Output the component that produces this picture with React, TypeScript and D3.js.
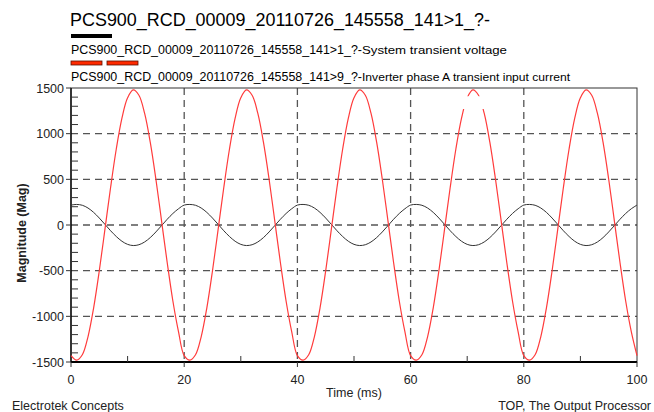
import React from 'react'
import * as d3 from 'd3'

// time axis in ms, one sample per ms
const timeMs = d3.range(0, 101)

// Inverter phase A transient input current (red), read per ms
const currentA = [
  -1430, -1479, -1421, -1224, -907, -501, -46, 413, 832, 1170, 1393, 1479, 1421, 1224, 907, 501, 46, -413, -832, -1170,
  -1430, -1479, -1421, -1224, -907, -501, -46, 413, 832, 1170, 1393, 1479, 1421, 1224, 907, 501, 46, -413, -832, -1170,
  -1430, -1479, -1421, -1224, -907, -501, -46, 413, 832, 1170, 1393, 1479, 1421, 1224, 907, 501, 46, -413, -832, -1170,
  -1430, -1479, -1421, -1224, -907, -501, -46, 413, 832, 1170, 1393, 1479, 1421, 1224, 907, 501, 46, -413, -832, -1170,
  -1430, -1479, -1421, -1224, -907, -501, -46, 413, 832, 1170, 1393, 1479, 1421, 1224, 907, 501, 46, -413, -832, -1170,
  -1430,
]

// System transient voltage (black), read per ms
const voltage = [
  218, 225, 216, 186, 138, 76, 7, -63, -126, -178, -212, -225, -216, -186, -138, -76, -7, 63, 126, 178,
  218, 225, 216, 186, 138, 76, 7, -63, -126, -178, -212, -225, -216, -186, -138, -76, -7, 63, 126, 178,
  218, 225, 216, 186, 138, 76, 7, -63, -126, -178, -212, -225, -216, -186, -138, -76, -7, 63, 126, 178,
  218, 225, 216, 186, 138, 76, 7, -63, -126, -178, -212, -225, -216, -186, -138, -76, -7, 63, 126, 178,
  218, 225, 216, 186, 138, 76, 7, -63, -126, -178, -212, -225, -216, -186, -138, -76, -7, 63, 126, 178,
  218,
]

const xMajor = [0, 20, 40, 60, 80, 100]
const xMinor = [10, 30, 50, 70, 90]
const yMajor = [-1500, -1000, -500, 0, 500, 1000, 1500]
const yMinor = d3.range(-1400, 1500, 100).filter((v) => v % 500 !== 0)

const title = 'PCS900_RCD_00009_20110726_145558_141>1_?-'
const seriesIds = ['PCS900_RCD_00009_20110726_145558_141>1_?-', 'PCS900_RCD_00009_20110726_145558_141>9_?-']
const seriesNames = ['System transient voltage', 'Inverter phase A transient input current']

const FONT = 'Liberation Sans, Arial, Helvetica, sans-serif'

export default function App() {
  const W = 654
  const H = 412
  const left = 71, right = 637, top = 88, bottom = 362

  const x = d3.scaleLinear().domain([0, 100]).range([left, right])
  const y = d3.scaleLinear().domain([-1500, 1500]).range([bottom, top])

  const line = (vals: number[]) =>
    d3.line<number>()
      .x((d, i) => x(timeMs[i]))
      .y((d) => y(d))
      .curve(d3.curveCatmullRom)(vals) || ''

  return (
    <svg width={W} height={H} style={{ position: 'absolute', left: 0, top: 0, background: '#fff' }}
      fontFamily={FONT}>
      {/* title + legend */}
      <text x={70} y={26} fontSize={17.5} textLength={420} lengthAdjust="spacingAndGlyphs">{title}</text>
      <rect x={71} y={34} width={41} height={4} fill="#000" />
      <text x={71} y={54} fontSize={12}>
        <tspan textLength={291} lengthAdjust="spacingAndGlyphs">{seriesIds[0]}</tspan>
        <tspan fontSize={10.5} textLength={145} lengthAdjust="spacingAndGlyphs">{seriesNames[0]}</tspan>
      </text>
      <rect x={71} y={61} width={31} height={4} fill="#ff2a00" stroke="#5a1000" strokeWidth={0.8} />
      <rect x={107} y={61} width={31} height={4} fill="#ff2a00" stroke="#5a1000" strokeWidth={0.8} />
      <text x={71} y={81} fontSize={12}>
        <tspan textLength={291} lengthAdjust="spacingAndGlyphs">{seriesIds[1]}</tspan>
        <tspan fontSize={10.5} textLength={208} lengthAdjust="spacingAndGlyphs">{seriesNames[1]}</tspan>
      </text>

      {/* grid */}
      {yMajor.filter((v) => v > -1500 && v < 1500).map((v) => (
        <line key={'gy' + v} x1={left} x2={right} y1={y(v)} y2={y(v)}
          stroke="#555" strokeWidth={1.3} strokeDasharray="7,5" />
      ))}
      {xMajor.filter((v) => v > 0 && v < 100).map((v) => (
        <line key={'gx' + v} x1={x(v)} x2={x(v)} y1={top} y2={bottom}
          stroke="#555" strokeWidth={1.3} strokeDasharray="7,5" />
      ))}

      {/* frame */}
      <rect x={left} y={top} width={right - left} height={bottom - top} fill="none" stroke="#333" strokeWidth={1} />
      <line x1={left} x2={left} y1={top} y2={bottom} stroke="#000" strokeWidth={1.3} />
      <line x1={left} x2={right} y1={bottom} y2={bottom} stroke="#000" strokeWidth={2} />

      {/* series */}
      <path d={line(voltage)} fill="none" stroke="#333" strokeWidth={1} />
      <path d={line(currentA)} fill="none" stroke="#ff3b3b" strokeWidth={1.2} />
      {/* the original has a break in the red trace just under the 71 ms peak */}
      <rect x={x(68)} y={y(1410)} width={x(74) - x(68)} height={y(1270) - y(1410)} fill="#fff" />

      {/* y ticks */}
      {yMinor.map((v) => (
        <line key={'ym' + v} x1={left} x2={left + 7} y1={y(v)} y2={y(v)} stroke="#333" strokeWidth={1} />
      ))}
      {yMajor.map((v) => (
        <g key={'yt' + v}>
          <line x1={left - 5} x2={left} y1={y(v)} y2={y(v)} stroke="#333" strokeWidth={1} />
          <text x={left - 7} y={y(v)} dy="0.36em" textAnchor="end" fontSize={12.5} fill="#222">{v}</text>
        </g>
      ))}

      {/* x ticks */}
      {xMinor.map((v) => (
        <line key={'xm' + v} x1={x(v)} x2={x(v)} y1={bottom} y2={bottom - 6} stroke="#333" strokeWidth={1} />
      ))}
      {xMajor.map((v) => (
        <g key={'xt' + v}>
          <line x1={x(v)} x2={x(v)} y1={bottom} y2={bottom + 5} stroke="#333" strokeWidth={1} />
          <text x={x(v)} y={384} textAnchor="middle" fontSize={12.5} fill="#222">{v}</text>
        </g>
      ))}

      {/* axis titles */}
      <text x={354} y={397} textAnchor="middle" fontSize={12.5} fill="#222">Time (ms)</text>
      <text transform="translate(26,233) rotate(-90)" textAnchor="middle" fontSize={12.5} fontWeight="bold" fill="#222">
        Magnitude (Mag)
      </text>

      {/* footer */}
      <text x={12} y={410} fontSize={12.5} fill="#222">Electrotek Concepts</text>
      <text x={651} y={410} textAnchor="end" fontSize={12.5} fill="#222">TOP, The Output Processor</text>
    </svg>
  )
}
